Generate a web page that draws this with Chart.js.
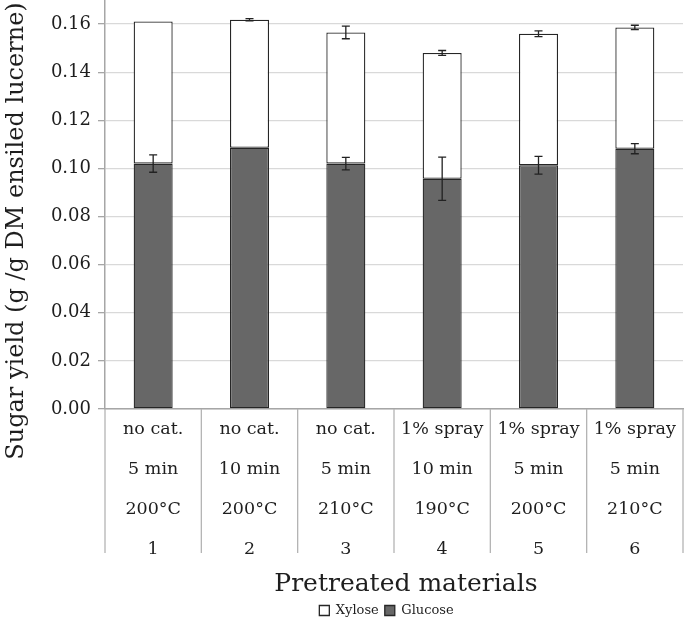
<!DOCTYPE html>
<html>
<head>
<meta charset="utf-8">
<script src="https://cdn.jsdelivr.net/npm/chart.js@4.4.1/dist/chart.umd.min.js"></script>
<style>
html,body{margin:0;padding:0;background:#fff;}
#wrap{width:685px;height:620px;}
</style>
</head>
<body>
<div id="wrap"><canvas id="c" width="685" height="620"></canvas></div>
<script>
// ---- data ----
const categories = [
  ['no cat.', '5 min', '200°C', '1'],
  ['no cat.', '10 min', '200°C', '2'],
  ['no cat.', '5 min', '210°C', '3'],
  ['1% spray', '10 min', '190°C', '4'],
  ['1% spray', '5 min', '200°C', '5'],
  ['1% spray', '5 min', '210°C', '6']
];
const glucose    = [0.1020, 0.1086, 0.1020, 0.0957, 0.1013, 0.1082];
const xylose     = [0.0591, 0.0532, 0.0545, 0.0523, 0.0547, 0.0504];
const glucoseErr = [0.0036, 0.0000, 0.0026, 0.0090, 0.0037, 0.0021];
const xyloseErr  = [0.0000, 0.0005, 0.0026, 0.0010, 0.0012, 0.0009];
const yTicks     = [0, 0.02, 0.04, 0.06, 0.08, 0.10, 0.12, 0.14, 0.16];
const yTitle = 'Sugar yield (g /g DM ensiled lucerne)';
const xTitle = 'Pretreated materials';

const FONT = 'DejaVu Serif';
const TXT = '#1e1e1e';

const errorBars = {
  id: 'errorBars',
  afterDatasetsDraw(chart) {
    const ctx = chart.ctx;
    const ys = chart.scales.y;
    const cum = categories.map(() => 0);
    ctx.save();
    ctx.strokeStyle = '#222';
    ctx.lineWidth = 1.3;
    chart.data.datasets.forEach((ds, di) => {
      const meta = chart.getDatasetMeta(di);
      ds.data.forEach((v, i) => {
        cum[i] += v;
        const e = ds.errors[i];
        if (!e) return;
        const x = meta.data[i].x;
        const yt = ys.getPixelForValue(cum[i] + e);
        const yb = ys.getPixelForValue(cum[i] - e);
        const cap = 4;
        ctx.beginPath();
        ctx.moveTo(x, yt); ctx.lineTo(x, yb);
        ctx.moveTo(x - cap, yt); ctx.lineTo(x + cap, yt);
        ctx.moveTo(x - cap, yb); ctx.lineTo(x + cap, yb);
        ctx.stroke();
      });
    });
    ctx.restore();
  }
};

// category separator lines below the x axis, placed from the x scale
const xSeparators = {
  id: 'xSeparators',
  afterDraw(chart) {
    const xs = chart.scales.x;
    const ctx = chart.ctx;
    const n = categories.length;
    const top = xs.top;
    const bottom = xs.top + 144;
    const pos = [];
    for (let i = 0; i <= n; i++) {
      if (i === 0) pos.push(xs.getPixelForTick(0) - (xs.getPixelForTick(1) - xs.getPixelForTick(0)) / 2);
      else if (i === n) pos.push(xs.getPixelForTick(n - 1) + (xs.getPixelForTick(n - 1) - xs.getPixelForTick(n - 2)) / 2);
      else pos.push((xs.getPixelForTick(i - 1) + xs.getPixelForTick(i)) / 2);
    }
    ctx.save();
    ctx.strokeStyle = '#b4b4b4';
    ctx.lineWidth = 1.3;
    ctx.beginPath();
    pos.forEach(p => { ctx.moveTo(p, top); ctx.lineTo(p, bottom); });
    ctx.stroke();
    ctx.restore();
  }
};

const yTitlePlugin = {
  id: 'yTitlePlugin',
  afterDraw(chart) {
    const ctx = chart.ctx;
    ctx.save();
    ctx.translate(17, 231);
    ctx.rotate(-Math.PI / 2);
    ctx.font = '24px "' + FONT + '"';
    ctx.fillStyle = TXT;
    ctx.textAlign = 'center';
    ctx.textBaseline = 'middle';
    ctx.fillText(yTitle, 0, 0);
    ctx.restore();
  }
};

const legendShift = {
  id: 'legendShift',
  afterLayout(chart) {
    if (chart.legend) {
      chart.legend.left += 45;
      chart.legend.right += 45;
      chart.legend.top += 7;
      chart.legend.bottom += 7;
    }
  }
};

new Chart(document.getElementById('c'), {
  type: 'bar',
  data: {
    labels: categories,
    datasets: [
      {
        label: 'Glucose',
        data: glucose,
        errors: glucoseErr,
        backgroundColor: '#676767',
        borderColor: '#262626',
        borderWidth: 1.3,
        borderSkipped: false,
        barPercentage: 0.405,
        categoryPercentage: 1
      },
      {
        label: 'Xylose',
        data: xylose,
        errors: xyloseErr,
        backgroundColor: '#ffffff',
        borderColor: '#262626',
        borderWidth: 1.3,
        borderSkipped: false,
        barPercentage: 0.405,
        categoryPercentage: 1
      }
    ]
  },
  options: {
    responsive: false,
    animation: false,
    devicePixelRatio: 1,
    layout: { padding: { top: 0, right: 2, left: 0, bottom: 0 } },
    plugins: {
      tooltip: { enabled: false },
      legend: {
        position: 'bottom',
        reverse: true,
        labels: {
          font: { family: FONT, size: 13 },
          color: TXT,
          boxWidth: 10,
          boxHeight: 10,
          padding: 6
        }
      }
    },
    scales: {
      x: {
        stacked: true,
        grid: { display: false, drawTicks: false, tickLength: 0 },
        border: { display: true, color: '#a6a6a6', width: 1.5 },
        ticks: {
          autoSkip: false,
          maxRotation: 0,
          minRotation: 0,
          padding: 0,
          color: TXT,
          font: { family: FONT, size: 17.5, lineHeight: '40px' }
        },
        title: {
          display: true,
          text: '   ' + xTitle,
          color: TXT,
          font: { family: FONT, size: 25 },
          padding: { top: 0, bottom: -8 }
        }
      },
      y: {
        stacked: true,
        min: 0,
        max: 0.17,
        afterBuildTicks(scale) {
          scale.ticks = yTicks.map(v => ({ value: v }));
        },
        afterFit(scale) {
          scale.width = 105;
          scale.paddingTop = 0;
        },
        grid: {
          color: '#d9d9d9',
          lineWidth: 1.3,
          tickLength: 7,
          tickColor: '#a6a6a6'
        },
        border: { display: true, color: '#a6a6a6', width: 1.5 },
        ticks: {
          padding: 7,
          color: TXT,
          font: { family: FONT, size: 18 },
          callback: v => Number(v).toFixed(2)
        }
      }
    }
  },
  plugins: [errorBars, xSeparators, yTitlePlugin, legendShift]
});
</script>
</body>
</html>
